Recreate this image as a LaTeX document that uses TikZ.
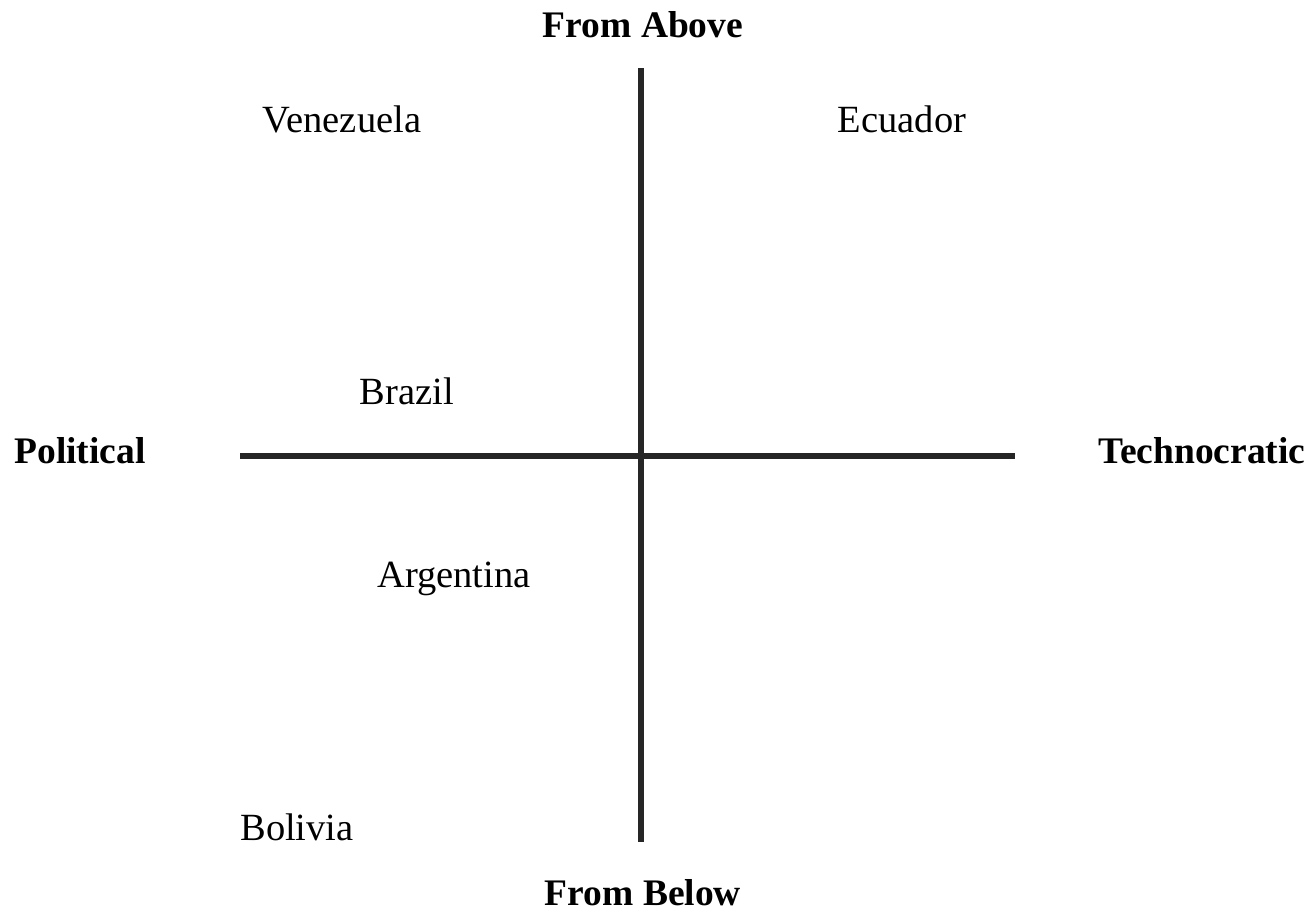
\documentclass[tikz,border=0pt]{standalone}
\usepackage{fontspec}
\setmainfont{Liberation Serif}
\begin{document}
\begin{tikzpicture}[x=1pt,y=-1pt,
  lbl/.style={font=\fontsize{38.5}{44}\selectfont, inner sep=0pt, anchor=center},
  axlbl/.style={font=\fontsize{37.5}{44}\selectfont\bfseries, inner sep=0pt, anchor=center},
  axis/.style={line width=5.5pt, color=black!85}]
\useasboundingbox (0,0) rectangle (1316,913);
\coordinate (top) at (641,68);
\coordinate (bot) at (641,842);
\coordinate (lft) at (240,456);
\coordinate (rgt) at (1015,456);
\draw[axis] (top) -- (bot);
\draw[axis] (lft) -- (rgt);
\node[axlbl] (above) at (643,25) {From Above};
\node[axlbl] (below) at (643,893) {From Below};
\node[axlbl] (pol) at (80,451) {Political};
\node[axlbl] (tech) at (1202,451) {Technocratic};
\node[lbl] (ven) at (342,119) {Venezuela};
\node[lbl] (ecu) at (902,119) {Ecuador};
\node[lbl] (bra) at (407,391) {Brazil};
\node[lbl] (arg) at (454,579) {Argentina};
\node[lbl] (bol) at (297,827) {Bolivia};
\end{tikzpicture}
\end{document}
